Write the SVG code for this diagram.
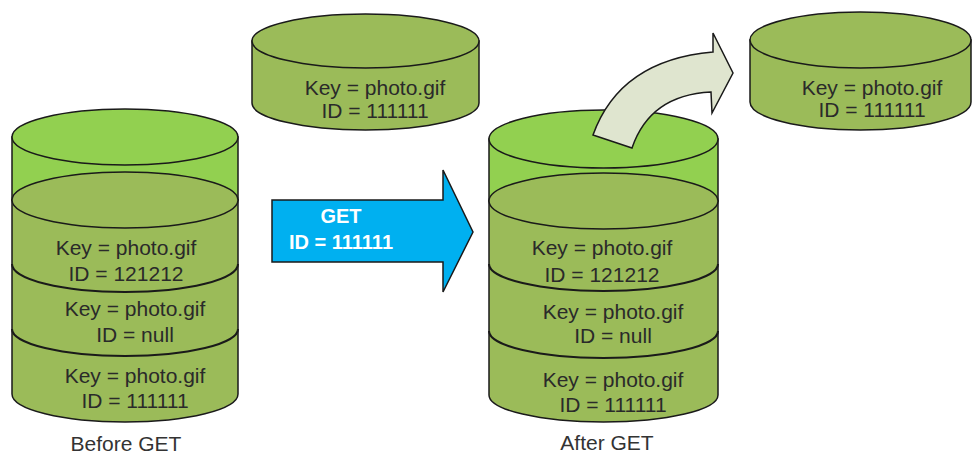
<svg xmlns="http://www.w3.org/2000/svg" width="972" height="454" viewBox="0 0 972 454">
<style>
.lg{fill:#92D050;stroke:#1a1a1a;stroke-width:1.5}
.ol{fill:#9BBB59;stroke:#1a1a1a;stroke-width:1.5}
.ln{fill:none;stroke:#1a1a1a;stroke-width:2}
.t{font-family:"Liberation Sans",Arial,sans-serif;font-size:21px;fill:#2a2a2a;text-anchor:middle}
.w{font-family:"Liberation Sans",Arial,sans-serif;font-size:20px;font-weight:bold;fill:#ffffff;text-anchor:middle}
</style>
<rect width="972" height="454" fill="#ffffff"/>

<g id="before-store">
  <path class="lg" d="M12,137 V200 H238 V137 Z"/>
  <ellipse class="lg" cx="125" cy="137" rx="113" ry="28"/>
  <path class="ol" d="M12,200 V394 A113,28 0 0 0 238,394 V200 Z"/>
  <ellipse class="ol" cx="125" cy="200" rx="113" ry="28"/>
  <path class="ln" d="M12,264 A113,28 0 0 0 238,264"/>
  <path class="ln" d="M12,329 A113,27 0 0 0 238,329"/>
  <text class="t" x="126" y="255">Key = photo.gif</text>
  <text class="t" x="126" y="281">ID = 121212</text>
  <text class="t" x="135" y="316">Key = photo.gif</text>
  <text class="t" x="135" y="342">ID = null</text>
  <text class="t" x="135" y="383">Key = photo.gif</text>
  <text class="t" x="135" y="408">ID = 111111</text>
  <text class="t" x="126" y="451" style="fill:#333">Before GET</text>
</g>

<g id="requested-object">
  <path class="ol" d="M252,41 V103 A113.5,27 0 0 0 479,103 V41 Z"/>
  <ellipse class="ol" cx="365.5" cy="41" rx="113.5" ry="27"/>
  <text class="t" x="375" y="95">Key = photo.gif</text>
  <text class="t" x="375" y="118">ID = 111111</text>
</g>

<g id="after-store">
  <path class="lg" d="M489,139 V201 H718 V139 Z"/>
  <ellipse class="lg" cx="603.5" cy="139" rx="114.5" ry="29"/>
  <path class="ol" d="M489,201 V395 A114.5,27 0 0 0 718,395 V201 Z"/>
  <ellipse class="ol" cx="603.5" cy="201" rx="114.5" ry="28"/>
  <path class="ln" d="M489,264 A114.5,27 0 0 0 718,264"/>
  <path class="ln" d="M489,331 A114.5,27 0 0 0 718,331"/>
  <text class="t" x="602" y="255">Key = photo.gif</text>
  <text class="t" x="602" y="282">ID = 121212</text>
  <text class="t" x="613" y="319">Key = photo.gif</text>
  <text class="t" x="613" y="343">ID = null</text>
  <text class="t" x="613" y="387">Key = photo.gif</text>
  <text class="t" x="613" y="412">ID = 111111</text>
  <text class="t" x="607" y="450" style="fill:#333">After GET</text>
</g>

<g id="returned-object">
  <path class="ol" d="M750,40 V102 A110.5,28 0 0 0 971,102 V40 Z"/>
  <ellipse class="ol" cx="860.5" cy="40" rx="110.5" ry="28"/>
  <text class="t" x="872" y="95">Key = photo.gif</text>
  <text class="t" x="872" y="117">ID = 111111</text>
</g>

<g id="connectors">
  <path d="M272,200 H443 V170 L473,232 L443,292 V262 H272 Z" fill="#00B0F0" stroke="#1a1a1a" stroke-width="1.5"/>
  <text class="w" x="341" y="223">GET</text>
  <text class="w" x="341" y="249">ID = 111111</text>
  <path d="M593,135 Q620,60 713,52 L713,33 L733,73 L712,113 L711,92 Q650,95 632,148 Z" fill="#DFE5CF" stroke="#1a1a1a" stroke-width="1.5" stroke-linejoin="miter"/>
</g>
</svg>
